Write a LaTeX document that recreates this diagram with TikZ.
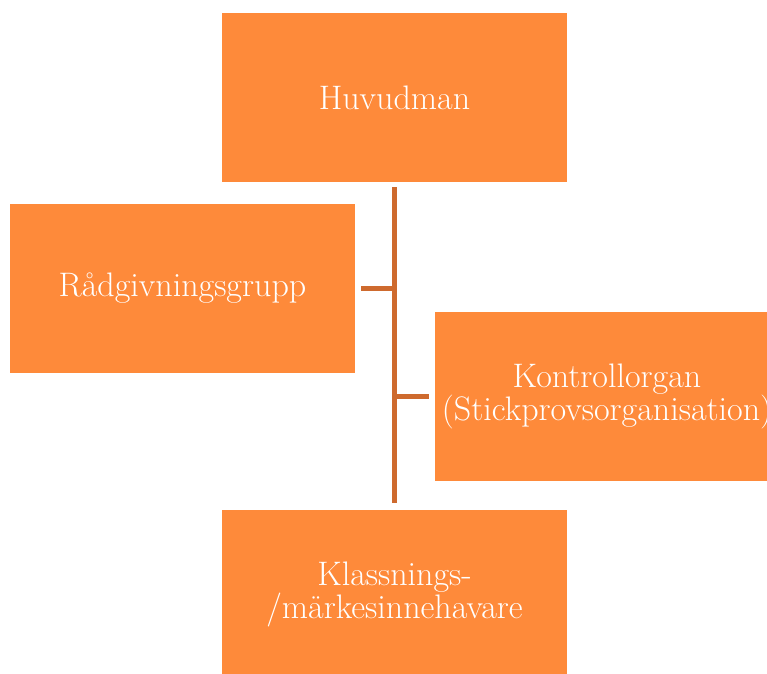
\documentclass[tikz,border=0pt]{standalone}
\usetikzlibrary{positioning}
\definecolor{boxorange}{RGB}{254,138,58}
\definecolor{lineorange}{RGB}{206,106,46}
\begin{document}
\begin{tikzpicture}[x=1pt,y=-1pt,
  orgbox/.style={rectangle, fill=boxorange, draw=none, minimum width=345pt, minimum height=169pt,
    inner sep=0pt, text=white, align=center, font=\fontsize{34}{33}\selectfont},
  conn/.style={draw=lineorange, line width=5.5pt}]
\useasboundingbox (0,0) rectangle (767,673);
\clip (0,0) rectangle (767,673);
\node[orgbox] (hv) at (394.5,97.5) {Huvudman};
\node[orgbox] (rg) at (182.5,288.5) {Rådgivningsgrupp};
\node[orgbox] (ko) at (607,396.5) {Kontrollorgan\\(Stickprovsorganisation)};
\node[orgbox] (kl) at (394.5,594.5) {Klassnings-\\/märkesinnehavare};
\coordinate (top) at ([yshift=-5pt]hv.south);
\coordinate (bot) at ([yshift=7pt]kl.north);
\draw[conn] (top) -- (bot);
\draw[conn] ([xshift=6pt]rg.east) -- (rg.east -| top);
\draw[conn] (ko.west -| top) -- ([xshift=-5pt]ko.west);
\end{tikzpicture}
\end{document}
